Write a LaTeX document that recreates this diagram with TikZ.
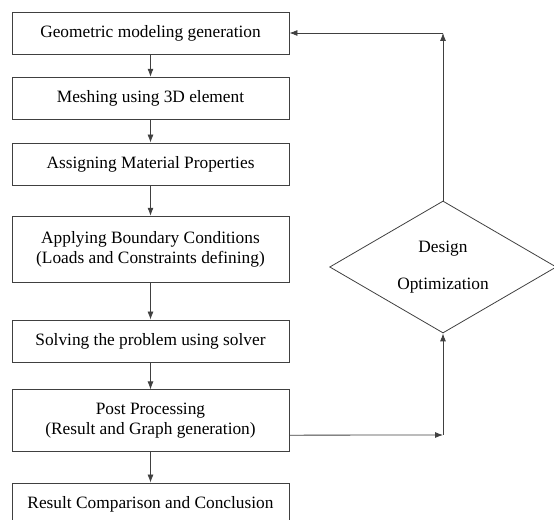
\documentclass[tikz,border=0pt]{standalone}
\usepackage{fontspec}
\setmainfont{Liberation Serif}
\usetikzlibrary{shapes.geometric, arrows.meta}

\begin{document}
\begin{tikzpicture}[x=0.75pt, y=-0.75pt,
        every node/.style={font=\fontsize{13}{15.5}\selectfont},
        box/.style={rectangle, draw=black!75, line width=0.6pt, minimum width=207.75pt, align=center},
        link/.style={-{Latex[length=6pt, width=4.5pt]}, draw=black!75, line width=0.6pt}]
        \useasboundingbox (0,0) rectangle (554,520);

        % Define nodes
        \node[box, minimum height=31.5pt] (S1) at (150.5,33) {Geometric modeling generation};
        \node[box, minimum height=32pt] (S2) at (150.5,98.5) {Meshing using 3D element};
        \node[box, minimum height=31.5pt] (S3) at (150.5,164) {Assigning Material Properties};
        \node[box, minimum height=50pt] (S4) at (150.5,249.5) {Applying Boundary Conditions\\(Loads and Constraints defining)};
        \node[box, minimum height=31.5pt] (S5) at (150.5,341) {Solving the problem using solver};
        \node[box, minimum height=46pt] (S6) at (150.5,420.5) {Post Processing\\(Result and Graph generation)};
        \node[box, minimum height=31.5pt] (S7) at (150.5,504) {Result Comparison and Conclusion};

        \node[diamond, draw=black!75, line width=0.6pt, shape aspect=1.72, inner sep=1pt, minimum width=170pt, minimum height=99pt, align=center] (D1) at (443,267) {Design\\[12pt]Optimization};

        \coordinate (C1) at (D1.north |- S1.east);
        \coordinate (C2) at (443,435);

        % Draw edges
        \foreach \i/\j in {1/2,2/3,3/4,4/5,5/6,6/7}
            \draw[link] (S\i) -- (S\j);

        \draw[link] ([yshift=-11pt]S6.east) -- (C2);
        \draw[link] (C2) -- (D1.south);
        \draw[link] (D1.north) -- (C1);
        \draw[link] (C1) -- (S1.east);

    \end{tikzpicture}
\end{document}
